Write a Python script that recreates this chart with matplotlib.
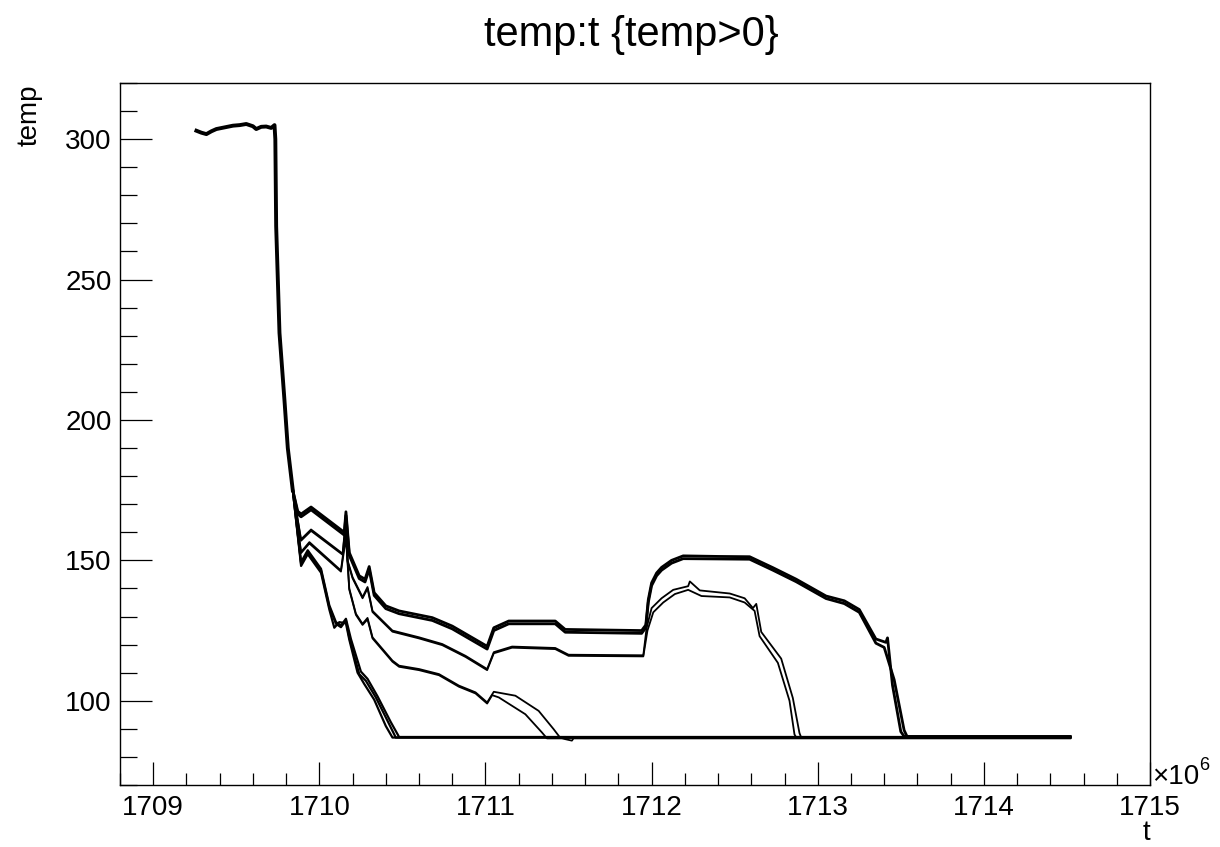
import matplotlib
matplotlib.use("Agg")
import matplotlib.pyplot as plt
from matplotlib.ticker import MultipleLocator

plt.rcParams['font.family'] = ['Liberation Sans', 'DejaVu Sans']

# ---- data (t in units of 1e6 s, temp in K) ----
t_common = [1709.26, 1709.29, 1709.32, 1709.35, 1709.38, 1709.43, 1709.48, 1709.52, 1709.56,
            1709.60, 1709.62, 1709.65, 1709.68, 1709.71, 1709.73, 1709.735, 1709.74, 1709.76,
            1709.79, 1709.81, 1709.84]
temp_common = [303.0, 302.3, 301.8, 302.8, 303.6, 304.2, 304.8, 305.0, 305.4,
               304.6, 303.6, 304.4, 304.5, 304.0, 305.0, 300.0, 269.0, 231.0,
               207.0, 190.0, 175.0]

t_A1 = [1709.84, 1709.87, 1709.89, 1709.95, 1710.15, 1710.16, 1710.18, 1710.24, 1710.275,
        1710.30, 1710.33, 1710.40, 1710.48, 1710.68, 1710.80, 1710.94, 1711.01, 1711.05,
        1711.14, 1711.42, 1711.48, 1711.94, 1711.965, 1711.98, 1712.00, 1712.03, 1712.06,
        1712.12, 1712.19, 1712.40, 1712.59, 1712.73, 1712.87, 1713.05, 1713.16, 1713.25,
        1713.35, 1713.41, 1713.42, 1713.45, 1713.50, 1713.52, 1714.52]
temp_A1 = [175.0, 167.5, 166.5, 169.0, 160.0, 167.3, 152.8, 144.5, 143.3,
           147.8, 138.5, 133.8, 132.0, 129.6, 126.6, 121.8, 119.4, 126.0,
           128.4, 128.4, 125.4, 125.0, 127.0, 136.0, 142.0, 145.5, 147.5,
           150.0, 151.6, 151.4, 151.3, 147.4, 143.3, 137.3, 135.6, 132.5,
           122.0, 120.8, 122.4, 105.5, 89.0, 87.3, 87.3]

t_A2 = [1709.84, 1709.87, 1709.89, 1709.95, 1710.15, 1710.16, 1710.18, 1710.24, 1710.275,
        1710.30, 1710.33, 1710.40, 1710.48, 1710.68, 1710.80, 1710.94, 1711.01, 1711.05,
        1711.14, 1711.42, 1711.48, 1711.94, 1711.965, 1711.98, 1712.00, 1712.03, 1712.06,
        1712.12, 1712.19, 1712.40, 1712.59, 1712.73, 1712.87, 1713.05, 1713.16, 1713.25,
        1713.35, 1713.40, 1713.46, 1713.52, 1713.54, 1714.52]
temp_A2 = [175.0, 166.5, 165.5, 168.0, 159.0, 166.0, 151.8, 143.5, 142.3,
           146.8, 137.5, 132.8, 131.0, 128.6, 125.6, 120.8, 118.4, 125.0,
           127.4, 127.4, 124.4, 124.0, 126.0, 135.0, 141.0, 144.5, 146.5,
           149.0, 150.6, 150.5, 150.4, 146.5, 142.4, 136.4, 134.6, 131.5,
           120.5, 119.0, 107.5, 89.5, 87.0, 87.0]

t_B1 = [1709.84, 1709.89, 1709.95, 1710.14, 1710.16, 1710.17, 1710.20, 1710.26, 1710.29,
        1710.32, 1710.44, 1710.60, 1710.74, 1710.88, 1711.01, 1711.05, 1711.16, 1711.42,
        1711.50, 1711.95, 1711.97, 1712.00, 1712.06, 1712.13, 1712.22, 1712.23, 1712.29,
        1712.47, 1712.56, 1712.61, 1712.63, 1712.66, 1712.78, 1712.85, 1712.89, 1712.90,
        1714.52]
temp_B1 = [175.0, 157.5, 161.0, 152.4, 165.0, 150.0, 144.0, 136.9, 140.5,
           132.0, 125.0, 122.6, 120.2, 116.0, 111.3, 117.3, 119.3, 118.8,
           116.4, 116.2, 126.0, 133.0, 136.5, 139.5, 140.8, 142.5, 139.3,
           138.2, 136.5, 133.0, 134.5, 124.5, 115.0, 101.0, 88.5, 87.0,
           87.0]

t_B2 = [1709.84, 1709.89, 1709.95, 1710.14, 1710.16, 1710.17, 1710.20, 1710.26, 1710.29,
        1710.32, 1710.44, 1710.60, 1710.74, 1710.88, 1711.01, 1711.05, 1711.16, 1711.42,
        1711.50, 1711.95, 1711.975, 1712.01, 1712.07, 1712.14, 1712.22, 1712.30, 1712.47,
        1712.56, 1712.62, 1712.65, 1712.76, 1712.83, 1712.86, 1712.87, 1714.52]
temp_B2 = [175.0, 157.0, 160.5, 152.0, 164.0, 149.5, 143.6, 136.5, 140.0,
           131.6, 124.6, 122.2, 119.8, 115.6, 110.9, 116.9, 118.9, 118.4,
           116.0, 115.8, 125.0, 131.5, 135.0, 138.0, 139.5, 137.3, 136.8,
           135.0, 132.0, 123.0, 113.5, 100.0, 88.0, 87.0, 87.0]

t_C1 = [1709.84, 1709.89, 1709.94, 1710.13, 1710.16, 1710.18, 1710.22, 1710.26, 1710.29,
        1710.32, 1710.44, 1710.48, 1710.60, 1710.72, 1710.84, 1710.94, 1711.01, 1711.05,
        1711.18, 1711.32, 1711.41, 1711.45, 1714.52]
temp_C1 = [175.0, 153.0, 156.5, 146.4, 160.0, 140.0, 131.0, 127.4, 129.5,
           122.6, 114.3, 112.5, 111.3, 109.5, 105.4, 103.0, 99.4, 103.2,
           101.8, 96.4, 89.9, 86.8, 86.8]

t_C2 = [1709.84, 1709.89, 1709.94, 1710.13, 1710.16, 1710.18, 1710.22, 1710.26, 1710.29,
        1710.32, 1710.44, 1710.48, 1710.60, 1710.72, 1710.84, 1710.94, 1711.01, 1711.04,
        1711.08, 1711.24, 1711.34, 1711.37, 1711.46, 1711.52, 1711.53, 1714.52]
temp_C2 = [175.0, 152.6, 156.0, 146.0, 158.0, 139.6, 130.6, 127.0, 129.0,
           122.2, 113.9, 112.1, 110.9, 109.1, 105.0, 102.6, 99.0, 102.0,
           101.2, 95.2, 88.7, 86.6, 86.6, 85.8, 86.6, 86.6]

t_D1 = [1709.84, 1709.89, 1709.93, 1710.01, 1710.06, 1710.10, 1710.13, 1710.16, 1710.18,
        1710.24, 1710.28, 1710.34, 1710.42, 1710.46, 1714.52]
temp_D1 = [175.0, 148.8, 153.0, 146.4, 133.3, 127.4, 126.2, 128.6, 122.6,
           109.5, 107.1, 101.2, 91.7, 86.9, 86.9]

t_D2 = [1709.84, 1709.89, 1709.93, 1710.01, 1710.06, 1710.09, 1710.12, 1710.16, 1710.18,
        1710.23, 1710.27, 1710.33, 1710.40, 1710.44, 1714.52]
temp_D2 = [175.0, 148.0, 152.2, 145.6, 132.5, 126.0, 128.0, 127.6, 121.8,
           110.0, 106.0, 100.4, 91.0, 86.9, 86.9]

t_D3 = [1709.84, 1709.89, 1709.93, 1710.01, 1710.06, 1710.10, 1710.13, 1710.16, 1710.19,
        1710.25, 1710.29, 1710.35, 1710.43, 1710.48, 1714.52]
temp_D3 = [175.0, 149.4, 153.6, 147.0, 134.0, 128.0, 126.8, 129.2, 122.0,
           110.4, 107.8, 101.6, 92.4, 87.1, 87.1]

series = [
    (t_A1, temp_A1, 2.0), (t_A2, temp_A2, 2.0),
    (t_B1, temp_B1, 1.3), (t_B2, temp_B2, 1.3),
    (t_C1, temp_C1, 1.3), (t_C2, temp_C2, 1.3),
    (t_D1, temp_D1, 1.6), (t_D2, temp_D2, 1.6), (t_D3, temp_D3, 1.6),
]

W, H = 1220, 847
fig = plt.figure(figsize=(W / 100, H / 100), dpi=100)
L, R, T, B = 120, 1150, 83, 785
ax = fig.add_axes([L / W, 1 - B / H, (R - L) / W, (B - T) / H])

ax.plot(t_common, temp_common, color='black', lw=2.8)
for tt, yy, lw in series:
    ax.plot(tt, yy, color='black', lw=lw)

ax.set_xlim(1708.8, 1715.0)
ax.set_ylim(70, 320)

ax.xaxis.set_major_locator(MultipleLocator(1))
ax.xaxis.set_minor_locator(MultipleLocator(0.2))
ax.yaxis.set_major_locator(MultipleLocator(50))
ax.yaxis.set_minor_locator(MultipleLocator(10))

ax.tick_params(which='both', direction='in', top=False, right=False,
               width=0.9, labelsize=20, colors='black')
ax.xaxis.set_tick_params(which='major', length=16.5, pad=7)
ax.xaxis.set_tick_params(which='minor', length=8.6)
ax.yaxis.set_tick_params(which='major', length=23, pad=6)
ax.yaxis.set_tick_params(which='minor', length=12.2)
for s in ax.spines.values():
    s.set_linewidth(1.0)

ax.set_xticklabels([f"{int(v)}" for v in ax.get_xticks()])

fig.text(631 / W, 1 - 46 / H, "temp:t {temp>0}", ha='center', va='baseline', fontsize=30)
fig.text(30 / W, 1 - 85 / H, "temp", rotation=90, ha='center', va='top', fontsize=20)
fig.text(1150 / W, 1 - 840 / H, "t", ha='right', va='baseline', fontsize=20)
fig.text(1152 / W, 1 - 784 / H, "\u00d710", ha='left', va='baseline', fontsize=20)
fig.text(1199 / W, 1 - 770 / H, "6", ha='left', va='baseline', fontsize=13)

fig.savefig("out.png", dpi=100, facecolor='white')
